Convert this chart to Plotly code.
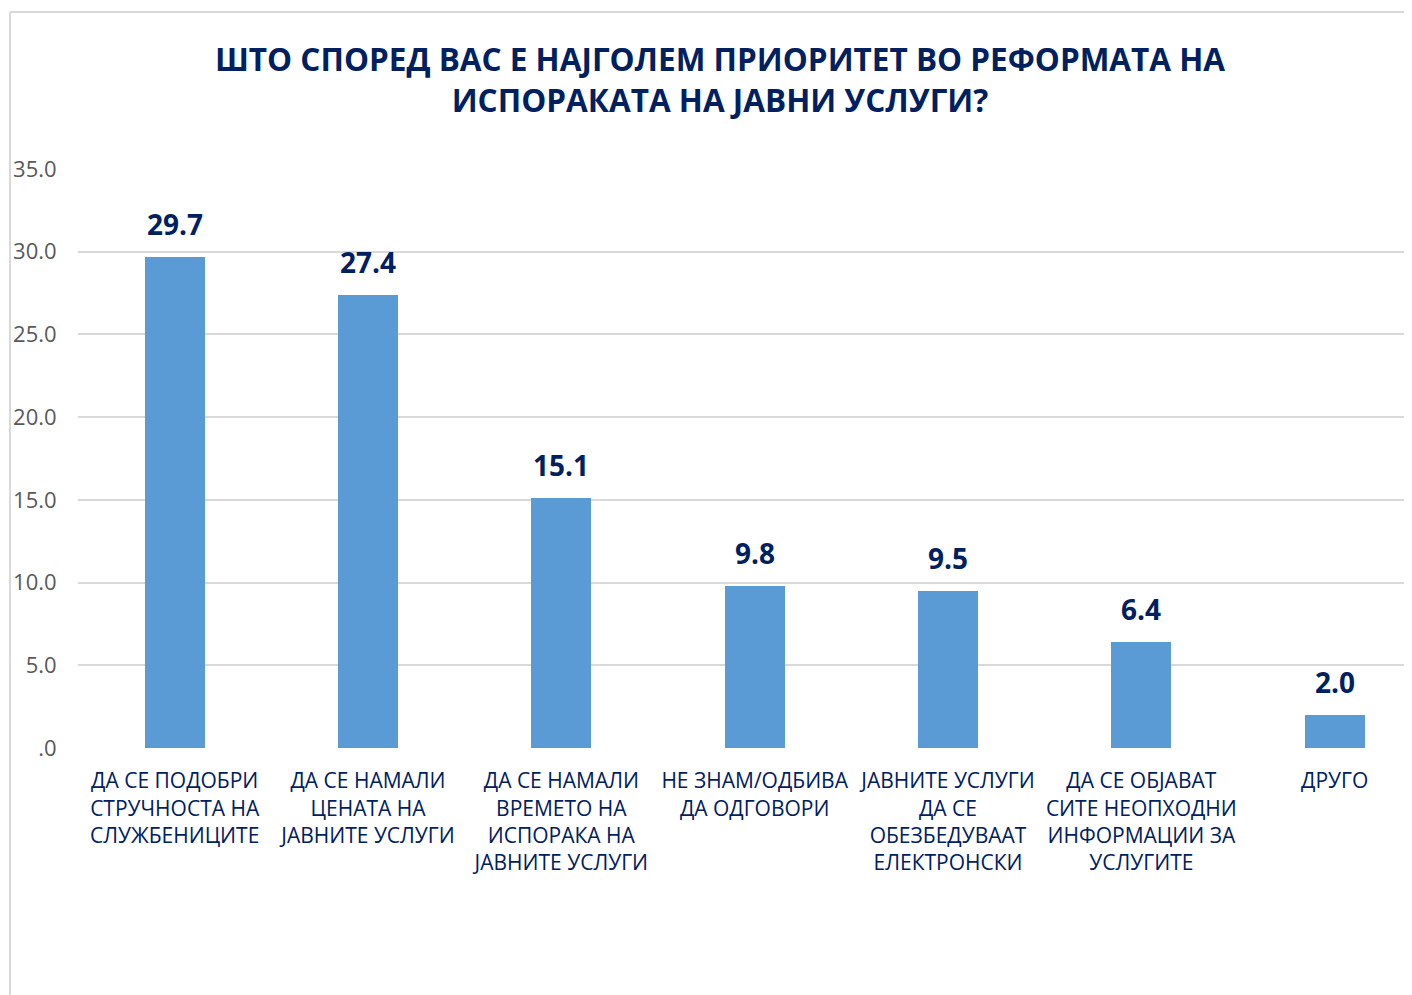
import plotly.graph_objects as go

categories = [
    'ДА СЕ ПОДОБРИ<br>СТРУЧНОСТА НА<br>СЛУЖБЕНИЦИТЕ',
    'ДА СЕ НАМАЛИ<br>ЦЕНАТА НА<br>ЈАВНИТЕ УСЛУГИ',
    'ДА СЕ НАМАЛИ<br>ВРЕМЕТО НА<br>ИСПОРАКА НА<br>ЈАВНИТЕ УСЛУГИ',
    'НЕ ЗНАМ/ОДБИВА<br>ДА ОДГОВОРИ',
    'ЈАВНИТЕ УСЛУГИ<br>ДА СЕ<br>ОБЕЗБЕДУВААТ<br>ЕЛЕКТРОНСКИ',
    'ДА СЕ ОБЈАВАТ<br>СИТЕ НЕОПХОДНИ<br>ИНФОРМАЦИИ ЗА<br>УСЛУГИТЕ',
    'ДРУГО',
]
values = [29.7, 27.4, 15.1, 9.8, 9.5, 6.4, 2.0]
ytick_vals = [0, 5, 10, 15, 20, 25, 30, 35]
ytick_text = ['.0', '5.0', '10.0', '15.0', '20.0', '25.0', '30.0', '35.0']

navy = '#002060'
font = 'Open Sans'
xs = list(range(len(categories)))

fig = go.Figure()
fig.add_trace(go.Bar(
    x=xs,
    y=values,
    width=0.31,
    marker=dict(color='#5B9BD5', line=dict(width=0)),
))

# data labels above bars
for x, v in zip(xs, values):
    fig.add_annotation(x=x, y=v, text=f'{v:.1f}', showarrow=False,
                       yanchor='bottom', yshift=12,
                       font=dict(family=font, size=28, color=navy, weight='bold'))

# page body has an 8px margin, so the figure is 8px smaller
fig.update_layout(
    width=1404, height=987,
    margin=dict(l=70, r=0, t=161, b=247),
    paper_bgcolor='white', plot_bgcolor='white',
    showlegend=False,
    title=dict(
        text='ШТО СПОРЕД ВАС Е НАЈГОЛЕМ ПРИОРИТЕТ ВО РЕФОРМАТА НА<br>ИСПОРАКАТА НА ЈАВНИ УСЛУГИ?',
        x=712 / 1404, xanchor='center', y=1 - 63 / 987, yanchor='middle',
        font=dict(family=font, size=31.5, color=navy, weight='bold'),
    ),
    xaxis=dict(
        range=[-0.5, 6.4],
        tickvals=xs,
        ticktext=categories,
        tickangle=0,
        tickfont=dict(family=font, size=21, color=navy),
        showgrid=False, zeroline=False, showline=False,
        ticks='outside', ticklen=14, tickcolor='rgba(0,0,0,0)',
    ),
    yaxis=dict(
        range=[0, 35],
        tickvals=ytick_vals,
        ticktext=ytick_text,
        tickfont=dict(family=font, size=22, color='#595959'),
        gridcolor='#D9D9D9', gridwidth=2,
        zeroline=False, showline=False,
        ticks='outside', ticklen=16, tickcolor='rgba(0,0,0,0)',
    ),
    bargap=0,
)

# chart frame
fx = (2 - 70) / 1334
fy = (740 - 4) / 579
fig.add_shape(type='line', xref='paper', yref='paper',
              x0=fx, x1=fx, y0=(740 - 1000) / 579, y1=fy,
              line=dict(color='#D9D9D9', width=2))
fig.add_shape(type='line', xref='paper', yref='paper',
              x0=fx, x1=1.01, y0=fy, y1=fy,
              line=dict(color='#D9D9D9', width=2))

fig.write_html('out.html')
